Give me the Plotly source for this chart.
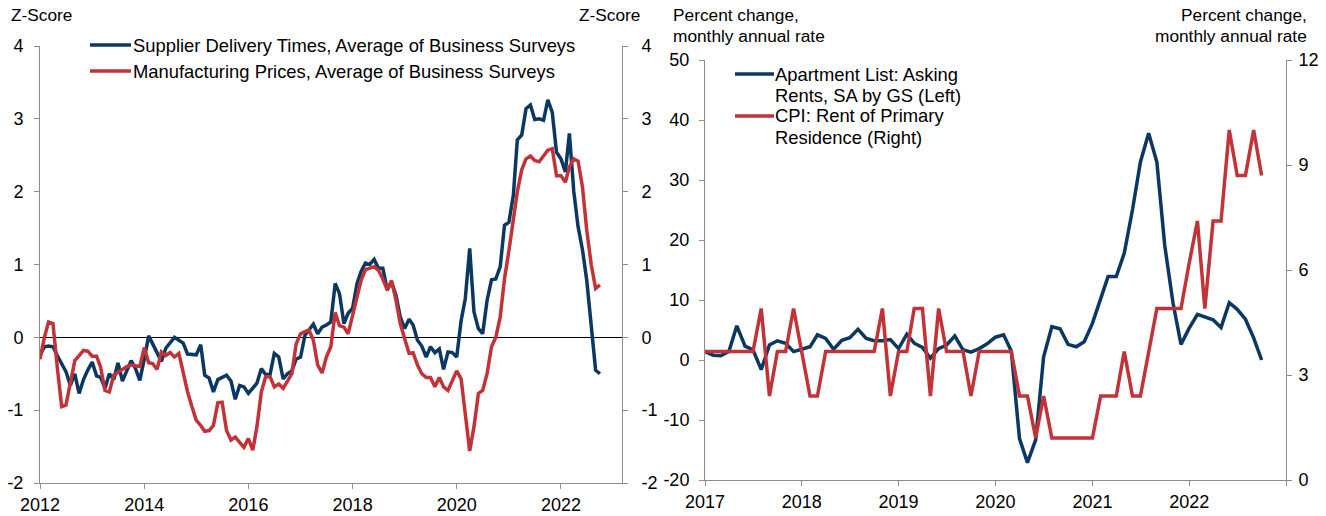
import pandas as pd
import plotly.graph_objects as go

# ---------------- data ----------------
left_dates = pd.date_range("2012-01-01", periods=130, freq="MS")
supplier_delivery = [
    -0.25, -0.13, -0.12, -0.13, -0.25, -0.36, -0.47, -0.66, -0.50, -0.77,
    -0.58, -0.45, -0.34, -0.53, -0.55, -0.70, -0.50, -0.58, -0.35, -0.60,
    -0.45, -0.32, -0.43, -0.59, -0.30, 0.02, -0.09, -0.22, -0.33, -0.15,
    -0.08, 0.00, -0.04, -0.08, -0.23, -0.24, -0.24, -0.10, -0.52, -0.56,
    -0.75, -0.58, -0.55, -0.52, -0.60, -0.85, -0.66, -0.68, -0.77, -0.70,
    -0.63, -0.43, -0.51, -0.51, -0.22, -0.27, -0.57, -0.50, -0.46, -0.30,
    -0.27, 0.03, 0.10, 0.18, 0.05, 0.14, 0.17, 0.21, 0.74, 0.60,
    0.19, 0.33, 0.40, 0.74, 0.90, 1.02, 1.00, 1.07, 0.95, 0.95,
    0.65, 0.76, 0.58, 0.28, 0.12, 0.25, 0.17, -0.04, -0.12, -0.27,
    -0.13, -0.21, -0.16, -0.44, -0.20, -0.21, -0.27, 0.23, 0.53, 1.22,
    0.35, 0.12, 0.05, 0.51, 0.79, 0.80, 0.97, 1.54, 1.58, 1.95,
    2.71, 2.78, 3.14, 3.19, 2.99, 3.00, 2.98, 3.26, 3.09, 2.54,
    2.45, 2.27, 2.80, 2.00, 1.52, 1.20, 0.78, 0.14, -0.45, -0.50,
]
manufacturing_prices = [
    -0.30, 0.00, 0.21, 0.19, -0.41, -0.95, -0.93, -0.64, -0.32, -0.25,
    -0.18, -0.19, -0.26, -0.26, -0.41, -0.73, -0.75, -0.52, -0.48, -0.44,
    -0.40, -0.38, -0.39, -0.40, -0.14, -0.35, -0.36, -0.44, -0.20, -0.25,
    -0.21, -0.27, -0.22, -0.50, -0.75, -0.95, -1.14, -1.21, -1.29, -1.28,
    -1.21, -0.90, -0.89, -1.28, -1.41, -1.37, -1.45, -1.51, -1.39, -1.55,
    -1.23, -0.75, -0.54, -0.54, -0.68, -0.64, -0.70, -0.61, -0.50, -0.09,
    0.05, 0.08, 0.10, -0.04, -0.38, -0.49, -0.27, -0.13, 0.34, 0.16,
    0.14, 0.05, 0.30, 0.55, 0.78, 0.93, 0.95, 0.97, 0.92, 0.80,
    0.65, 0.78, 0.51, 0.19, -0.02, -0.22, -0.21, -0.38, -0.50, -0.55,
    -0.55, -0.68, -0.55, -0.68, -0.73, -0.60, -0.46, -0.57, -1.05, -1.56,
    -1.23, -0.77, -0.73, -0.50, -0.13, 0.00, 0.28, 0.80, 1.19, 1.60,
    2.00, 2.30, 2.45, 2.49, 2.43, 2.41, 2.50, 2.57, 2.59, 2.22,
    2.22, 2.13, 2.34, 2.45, 2.42, 2.06, 1.47, 1.00, 0.67, 0.72,
]

right_dates = pd.date_range("2017-01-01", periods=70, freq="MS")
asking_rents = [
    1.4, 0.8, 0.7, 1.4, 5.7, 2.3, 1.7, -1.6, 2.5, 3.2,
    2.8, 1.4, 1.8, 2.2, 4.2, 3.6, 1.8, 3.3, 3.7, 5.1,
    3.6, 3.2, 3.2, 3.4, 1.9, 4.3, 2.8, 2.1, 0.3, 1.9,
    2.5, 4.0, 1.7, 1.3, 1.9, 2.7, 3.8, 4.2, 1.5, -13.1,
    -17.1, -13.3, 0.55, 5.55, 5.2, 2.6, 2.2, 3.05, 6.1, 10.0,
    13.9, 13.9, 17.8, 25.0, 33.0, 37.8, 33.0, 19.0, 9.5, 2.6,
    5.3, 7.6, 7.1, 6.7, 5.4, 9.55, 8.45, 6.8, 3.7, 0.0,
]
cpi_rent = [
    3.67, 3.67, 3.67, 3.67, 3.67, 3.67, 3.67, 4.9, 2.4, 3.67,
    3.67, 4.9, 3.67, 2.4, 2.4, 3.67, 3.67, 3.67, 3.67, 3.67,
    3.67, 3.67, 4.9, 2.4, 3.67, 3.67, 4.9, 4.9, 2.4, 4.9,
    3.67, 3.67, 3.67, 2.4, 3.67, 3.67, 3.67, 3.67, 3.67, 2.4,
    2.4, 1.2, 2.4, 1.2, 1.2, 1.2, 1.2, 1.2, 1.2, 2.4,
    2.4, 2.4, 3.67, 2.4, 2.4, 3.67, 4.9, 4.9, 4.9, 4.9,
    6.2, 7.4, 4.9, 7.4, 7.4, 10.0, 8.7, 8.7, 10.0, 8.7,
]

left_ticks = [-2, -1, 0, 1, 2, 3, 4]
right_left_ticks = [-20, -10, 0, 10, 20, 30, 40, 50]
right_right_ticks = [0, 3, 6, 9, 12]
left_year_ticks = ["2012", "2014", "2016", "2018", "2020", "2022"]
right_year_ticks = ["2017", "2018", "2019", "2020", "2021", "2022"]

left_legend = ["Supplier Delivery Times, Average of Business Surveys",
               "Manufacturing Prices, Average of Business Surveys"]
right_legend = [["Apartment List: Asking", "Rents, SA by GS (Left)"],
                ["CPI: Rent of Primary", "Residence (Right)"]]

# ---------------- style ----------------
BLUE = "#0b3862"
RED = "#c23338"
AXIS = "#8c8c8c"
FONT = "Liberation Sans, Arial, sans-serif"
TICK_FS = 18
LEG_FS = 18.4
TITLE_FS = 17.3
W, H = 1326, 516


def px_x(p):
    return p / W


def px_y(p):
    return 1 - p / H


fig = go.Figure()
fig.add_trace(go.Scatter(x=left_dates, y=supplier_delivery, xaxis="x", yaxis="y",
                         mode="lines", line=dict(color=BLUE, width=3.5),
                         name=left_legend[0], showlegend=False))
fig.add_trace(go.Scatter(x=left_dates, y=manufacturing_prices, xaxis="x", yaxis="y2",
                         mode="lines", line=dict(color=RED, width=3.5),
                         name=left_legend[1], showlegend=False))
fig.add_trace(go.Scatter(x=right_dates, y=asking_rents, xaxis="x2", yaxis="y3",
                         mode="lines", line=dict(color=BLUE, width=3.5),
                         name=" ".join(right_legend[0]), showlegend=False))
fig.add_trace(go.Scatter(x=right_dates, y=cpi_rent, xaxis="x2", yaxis="y4",
                         mode="lines", line=dict(color=RED, width=3.5),
                         name=" ".join(right_legend[1]), showlegend=False))

axis_common = dict(showline=True, linecolor=AXIS, linewidth=1, ticks="outside",
                   ticklen=5, tickcolor=AXIS, tickwidth=1, showgrid=False,
                   automargin=False,
                   tickfont=dict(family=FONT, size=TICK_FS, color="black"),
                   fixedrange=True)

fig.update_layout(
    width=W, height=H,
    margin=dict(l=0, r=0, t=0, b=0),
    paper_bgcolor="white", plot_bgcolor="white",
    font=dict(family=FONT, size=TICK_FS, color="black"),
    showlegend=False,
    xaxis=dict(domain=[px_x(40), px_x(622)], anchor="y", type="date",
               range=["2012-01-01", "2023-03-05"],
               tickvals=[y + "-01-01" for y in left_year_ticks], ticktext=left_year_ticks,
               zeroline=False, **axis_common),
    yaxis=dict(domain=[px_y(483), px_y(46)], anchor="x", range=[-2, 4],
               tickvals=left_ticks, ticktext=[str(v) for v in left_ticks],
               zeroline=True, zerolinecolor="black", zerolinewidth=1.2,
               ticklabelstandoff=7, **axis_common),
    yaxis2=dict(overlaying="y", side="right", anchor="x", range=[-2, 4],
                tickvals=left_ticks, ticktext=[str(v) for v in left_ticks],
                zeroline=False, ticklabelstandoff=10, **axis_common),
    xaxis2=dict(domain=[px_x(705), px_x(1286)], anchor="y3", type="date",
                range=["2017-01-01", "2023-01-01"],
                tickvals=[y + "-01-01" for y in right_year_ticks] + ["2023-01-01"],
                ticktext=right_year_ticks + [""],
                zeroline=False, **axis_common),
    yaxis3=dict(domain=[px_y(480), px_y(60)], anchor="x2", range=[-20, 50],
                tickvals=right_left_ticks, ticktext=[str(v) for v in right_left_ticks],
                zeroline=False, ticklabelstandoff=6, **axis_common),
    yaxis4=dict(overlaying="y3", side="right", anchor="x2", range=[0, 12],
                tickvals=right_right_ticks, ticktext=[str(v) for v in right_right_ticks],
                zeroline=False, ticklabelstandoff=3, **axis_common),
)

# ---------- axis titles ----------
title_font = dict(family=FONT, size=TITLE_FS, color="black")


def add_text(text, x, y, xanchor, font):
    fig.add_annotation(text=text, x=px_x(x), y=px_y(y), xref="paper", yref="paper",
                       xanchor=xanchor, yanchor="middle", showarrow=False,
                       font=font, borderpad=0)


add_text("Z-Score", 10, 15, "left", title_font)
add_text("Z-Score", 641, 15, "right", title_font)
add_text("Percent change,", 672, 15, "left", title_font)
add_text("monthly annual rate", 672, 36, "left", title_font)
add_text("Percent change,", 1308, 15, "right", title_font)
add_text("monthly annual rate", 1308, 36, "right", title_font)

# ---------- legends (line sample + text) ----------
leg_font = dict(family=FONT, size=LEG_FS, color="black")
for label, color, yc in zip(left_legend, [BLUE, RED], [45, 71]):
    fig.add_shape(type="line", xref="paper", yref="paper",
                  x0=px_x(90), x1=px_x(131), y0=px_y(yc), y1=px_y(yc),
                  line=dict(color=color, width=3.5))
    add_text(label, 132, yc, "left", leg_font)

for lines, color, yc in zip(right_legend, [BLUE, RED], [[74, 95], [116, 137]]):
    fig.add_shape(type="line", xref="paper", yref="paper",
                  x0=px_x(735), x1=px_x(774), y0=px_y(yc[0]), y1=px_y(yc[0]),
                  line=dict(color=color, width=3.5))
    for t, y in zip(lines, yc):
        add_text(t, 774, y, "left", leg_font)

# place the figure at the top-left corner of the page (no default body margin)
fig.write_html(
    "out.html",
    config={"displayModeBar": False},
    post_script="document.body.style.margin='0px';document.body.style.overflow='hidden';",
)
